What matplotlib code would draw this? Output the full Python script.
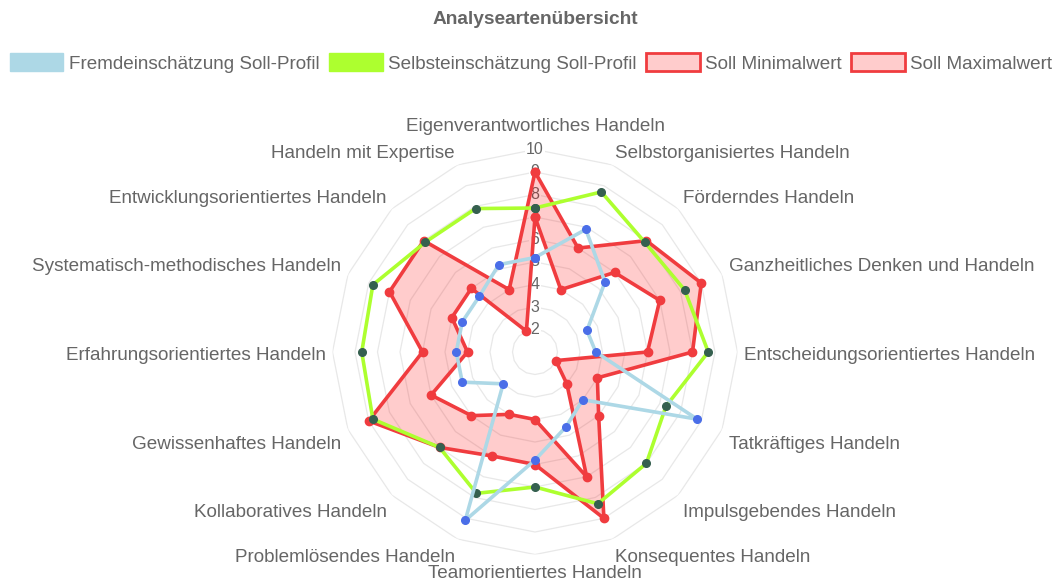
import numpy as np
import matplotlib
matplotlib.use("Agg")
import matplotlib.pyplot as plt
from matplotlib.patches import Patch
from matplotlib.transforms import offset_copy

plt.rcParams['font.family'] = ['Liberation Sans', 'DejaVu Sans']

# axes of the radar, clockwise from the top
categories = [
    "Eigenverantwortliches Handeln", "Selbstorganisiertes Handeln",
    "Förderndes Handeln", "Ganzheitliches Denken und Handeln",
    "Entscheidungsorientiertes Handeln", "Tatkräftiges Handeln",
    "Impulsgebendes Handeln", "Konsequentes Handeln",
    "Teamorientiertes Handeln", "Problemlösendes Handeln",
    "Kollaboratives Handeln", "Gewissenhaftes Handeln",
    "Erfahrungsorientiertes Handeln", "Systematisch-methodisches Handeln",
    "Entwicklungsorientiertes Handeln", "Handeln mit Expertise",
]
fremd = [5.2, 6.9, 5.4, 3.5, 3.7, 8.8, 4.0, 4.6, 5.8, 9.1, 3.0, 4.5, 4.5, 4.5, 4.5, 5.2]
selbst = [7.4, 8.7, 7.9, 8.2, 8.7, 7.3, 8.0, 8.3, 7.0, 7.8, 7.0, 8.8, 8.7, 8.8, 7.9, 7.9]
soll_min = [7, 4, 6, 7, 6, 2, 3, 7, 4, 4, 5, 6, 4, 5, 5, 2]
soll_max = [9, 6, 8, 9, 8, 4, 5, 9, 6, 6, 7, 9, 6, 8, 8, 4]
ticks = [2, 3, 4, 5, 6, 7, 8, 9, 10]
legend_labels = ["Fremdeinschätzung Soll-Profil", "Selbsteinschätzung Soll-Profil",
                 "Soll Minimalwert", "Soll Maximalwert"]

grey = '#666666'
blue_line, blue_pt = '#add8e6', '#4a6ee8'
green_line, green_pt = '#adff2f', '#35604f'
red = '#f03c3f'
pink = (1.0, 0.0, 0.0, 0.2)

n = len(categories)
theta = np.arange(n) * 2 * np.pi / n
th = np.append(theta, theta[0])

def closed(v):
    return np.append(v, v[0])

fig = plt.figure(figsize=(10.64, 5.82), dpi=100)
ax = fig.add_axes([332.5 / 1064, 27.5 / 582, 405 / 1064, 405 / 582], projection='polar')
ax.set_theta_zero_location('N')
ax.set_theta_direction(-1)
ax.set_ylim(1, 10)
ax.set_axis_off()

# polygon grid rings
for t in ticks:
    ax.plot(th, [t] * len(th), color='#e8e8e8', lw=0.9, zorder=1)
    ax.text(0, t, str(t), ha='center', va='center', fontsize=11.5, color=grey, zorder=2,
            bbox=dict(boxstyle='square,pad=0.1', fc='white', ec='none'))

# band between min and max
ax.fill(np.concatenate([th, th[::-1]]),
        np.concatenate([closed(soll_max), closed(soll_min)[::-1]]),
        color=pink, lw=0, zorder=3)
for vals in (soll_max, soll_min):
    ax.plot(th, closed(vals), color=red, lw=2.6, marker='o', ms=6,
            mfc=red, mec=red, zorder=4)
ax.plot(th, closed(selbst), color=green_line, lw=2.6, marker='o', ms=5.5,
        mfc=green_pt, mec=green_pt, zorder=5)
ax.plot(th, closed(fremd), color=blue_line, lw=2.6, marker='o', ms=5.5,
        mfc=blue_pt, mec=blue_pt, zorder=6)

# point labels
lab_tr = offset_copy(ax.transData, fig=fig, y=-3.5, units='dots')
for i, name in enumerate(categories):
    s, c = np.sin(theta[i]), np.cos(theta[i])
    ha = 'center' if abs(s) < 0.1 else ('left' if s > 0 else 'right')
    va = 'center' if abs(c) < 0.1 else ('bottom' if c > 0 else 'top')
    r = 10.78 if i == 0 else 10.31
    ax.text(theta[i], r, name, ha=ha, va=va, fontsize=13.6, color=grey,
            clip_on=False, transform=lab_tr)

fig.text(535 / 1064, 1 - 19.5 / 582, "Analyseartenübersicht", ha='center', va='center',
         fontsize=13.8, fontweight='bold', color=grey)

handles = [
    Patch(facecolor=blue_line, edgecolor=blue_line),
    Patch(facecolor=green_line, edgecolor=green_line),
    Patch(facecolor='#ffcccc', edgecolor=red, lw=2),
    Patch(facecolor='#ffcccc', edgecolor=red, lw=2),
]
fig.legend(handles, legend_labels, loc='upper left', bbox_to_anchor=(10 / 1064, 1 - 53.5 / 582),
           ncol=4, frameon=False, fontsize=13.6, labelcolor=grey, borderpad=0, borderaxespad=0,
           handlelength=2.83, handleheight=1.07, handletextpad=0.27, columnspacing=0.53)

fig.savefig('out.png', dpi=100)
